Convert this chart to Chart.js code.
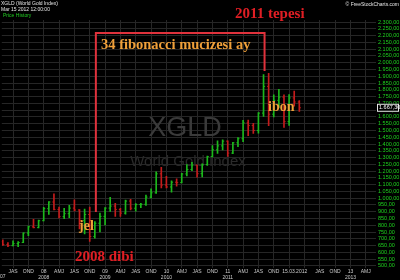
<!DOCTYPE html>
<html>
<head>
<meta charset="utf-8">
<script src="https://cdn.jsdelivr.net/npm/chart.js@4"></script>
<style>
  html, body { margin: 0; padding: 0; background: #000; }
  #wrap { width: 400px; height: 280px; }
</style>
</head>
<body>
<div id="wrap"><canvas id="xgld-chart" width="400" height="280"></canvas></div>
<script>
// XGLD monthly OHLC, May 2007 - Mar 2012
var months = [
  '2007-05', '2007-06', '2007-07', '2007-08', '2007-09', '2007-10', '2007-11', '2007-12',
  '2008-01', '2008-02', '2008-03', '2008-04', '2008-05', '2008-06', '2008-07', '2008-08', '2008-09', '2008-10', '2008-11', '2008-12',
  '2009-01', '2009-02', '2009-03', '2009-04', '2009-05', '2009-06', '2009-07', '2009-08', '2009-09', '2009-10', '2009-11', '2009-12',
  '2010-01', '2010-02', '2010-03', '2010-04', '2010-05', '2010-06', '2010-07', '2010-08', '2010-09', '2010-10', '2010-11', '2010-12',
  '2011-01', '2011-02', '2011-03', '2011-04', '2011-05', '2011-06', '2011-07', '2011-08', '2011-09', '2011-10', '2011-11', '2011-12',
  '2012-01', '2012-02', '2012-03'
];
var opens = [
  679, 659, 650, 665, 673, 743, 789, 783,
  834, 923, 972, 917, 864, 886, 927, 913, 834, 880, 718, 815,
  866, 927, 942, 917, 890, 979, 926, 953, 955, 1008, 1040, 1180,
  1097, 1083, 1118, 1115, 1179, 1212, 1244, 1181, 1248, 1307, 1357, 1386,
  1421, 1333, 1409, 1439, 1556, 1536, 1500, 1628, 1825, 1620, 1722, 1746,
  1565, 1740, 1710
];
var highs = [
  692, 673, 686, 680, 745, 795, 845, 838,
  933, 975, 1033, 934, 925, 947, 988, 916, 919, 935, 827, 890,
  931, 1006, 962, 925, 986, 992, 960, 963, 1024, 1070, 1195, 1227,
  1162, 1128, 1143, 1183, 1249, 1265, 1245, 1254, 1310, 1388, 1424, 1431,
  1424, 1412, 1447, 1575, 1577, 1552, 1632, 1913, 1921, 1763, 1803, 1763,
  1764, 1791, 1720
];
var lows = [
  652, 642, 648, 642, 671, 723, 780, 781,
  832, 880, 913, 855, 849, 857, 906, 774, 736, 681, 705, 752,
  802, 903, 866, 865, 882, 913, 905, 930, 947, 1003, 1035, 1075,
  1075, 1045, 1088, 1112, 1164, 1203, 1155, 1157, 1242, 1305, 1330, 1357,
  1309, 1328, 1381, 1418, 1462, 1478, 1480, 1603, 1535, 1600, 1670, 1523,
  1538, 1680, 1640
];
var closes = [
  659, 650, 665, 673, 743, 789, 783, 834,
  923, 972, 917, 864, 886, 927, 913, 834, 880, 718, 815, 866,
  927, 942, 917, 890, 979, 926, 953, 955, 1008, 1040, 1180, 1097,
  1083, 1118, 1115, 1179, 1212, 1244, 1181, 1248, 1307, 1357, 1386, 1421,
  1333, 1409, 1439, 1556, 1536, 1500, 1628, 1825, 1620, 1722, 1746, 1565,
  1740, 1710, 1667.3
];
var lastPrice = 1667.3;
var yTickValues = [500, 550, 600, 650, 700, 750, 800, 850, 900, 950, 1000, 1050, 1100, 1150, 1200, 1250, 1300,
  1350, 1400, 1450, 1500, 1550, 1600, 1650, 1700, 1750, 1800, 1850, 1900, 1950, 2000, 2050, 2100, 2150, 2200, 2250, 2300];
var quarterNames = { 3: 'AMJ', 6: 'JAS', 9: 'OND' };
// red "34 ay" bracket from the 2008 low to the 2011 top (month index, price)
var fibPath = [
  { x: 22.2, y: 899 }, { x: 22.2, y: 2219 }, { x: 55.2, y: 2219 }, { x: 55.2, y: 1939 }
];

var UP = '#1cb81c';
var DOWN = '#c41c1c';
var GRID = '#262626';
var DATE_TICK = 61.1;

function monthIndex(s) {
  return (Number(s.slice(0, 4)) - 2007) * 12 + Number(s.slice(5, 7)) - 1;
}
function fmtPrice(v) {
  var parts = v.toFixed(2).split('.');
  var ip = parts[0].replace(/\B(?=(\d{3})+(?!\d))/g, '.');
  return ip + ',' + parts[1];
}

var barColors = closes.map(function (c, i) { return c >= opens[i] ? UP : DOWN; });
var xTicks = [];
for (var q = 6; q <= 75; q += 3) xTicks.push(q);
xTicks.push(DATE_TICK);

var textPlugin = {
  id: 'texts',
  beforeDatasetsDraw: function (chart) {
    var c = chart.ctx;
    c.save();
    c.textAlign = 'center';
    c.textBaseline = 'middle';
    c.fillStyle = '#3a3a3a';
    c.font = '27px "Liberation Sans"';
    c.fillText('XGLD', 185, 129);
    c.fillStyle = '#2a2a2a';
    c.font = '15px "Liberation Sans"';
    c.fillText('World Gold Index', 188, 162);
    c.restore();
  },
  afterDraw: function (chart) {
    var c = chart.ctx;
    c.save();
    c.textBaseline = 'middle';
    c.textAlign = 'left';
    // header
    c.font = '5px "Liberation Sans"';
    c.fillStyle = '#e6e6e6';
    c.fillText('XGLD (World Gold Index)', 1, 4);
    c.fillText('Mar 15 2012 12:00:00', 1, 10);
    c.fillStyle = '#22cc22';
    c.fillText('Price History', 3, 16);
    c.textAlign = 'right';
    c.fillStyle = '#e6e6e6';
    c.fillText('\u00a9 FreeStockCharts.com', 399, 5);
    c.textAlign = 'center';
    c.fillStyle = '#cccccc';
    c.fillText('2007', 0, 277);

    // last price box
    var y = chart.scales.y.getPixelForValue(lastPrice);
    c.fillStyle = '#000';
    c.fillRect(377, y - 4, 22, 8);
    c.strokeStyle = '#e6e6e6';
    c.lineWidth = 1;
    c.strokeRect(377.5, y - 3.5, 21, 7);
    c.fillStyle = '#ffffff';
    c.textAlign = 'left';
    c.font = '5.5px "Liberation Sans"';
    c.fillText(fmtPrice(lastPrice), 379, y);

    // annotations
    c.font = 'bold 15px "Liberation Serif"';
    c.fillStyle = '#e01e24';
    c.fillText('2011 tepesi', 235, 14);
    c.fillText('2008 dibi', 75, 257);
    c.fillStyle = '#f0a03a';
    c.font = 'bold 14.5px "Liberation Serif"';
    c.fillText('34 fibonacci mucizesi ay', 101, 45);
    c.font = 'bold 14px "Liberation Serif"';
    c.fillText('jel', 79, 226);
    c.fillText('ibon', 268, 107);
    c.restore();
  }
};

var ctx = document.getElementById('xgld-chart').getContext('2d');
var myChart = new Chart(ctx, {
  type: 'bar',
  data: {
    datasets: [
      {
        type: 'line',
        data: fibPath,
        borderColor: '#e0323c',
        borderWidth: 2,
        pointRadius: 0,
        fill: false,
        order: 0
      },
      {
        type: 'bar',
        data: months.map(function (m, i) { return { x: monthIndex(m), y: [lows[i], highs[i]] }; }),
        backgroundColor: barColors,
        borderWidth: 0,
        barThickness: 1,
        grouped: false,
        order: 3
      },
      {
        type: 'scatter',
        data: months.map(function (m, i) { return { x: monthIndex(m) - 0.15, y: opens[i] }; }),
        pointStyle: 'line',
        pointRadius: 0.8,
        pointHoverRadius: 0.8,
        borderWidth: 1,
        borderColor: barColors,
        order: 2
      },
      {
        type: 'scatter',
        data: months.map(function (m, i) { return { x: monthIndex(m) + 0.15, y: closes[i] }; }),
        pointStyle: 'line',
        pointRadius: 0.8,
        pointHoverRadius: 0.8,
        borderWidth: 1,
        borderColor: barColors,
        order: 2
      }
    ]
  },
  options: {
    responsive: false,
    animation: false,
    layout: { padding: { top: 20, left: 0, right: 0, bottom: 0 } },
    plugins: {
      legend: { display: false },
      tooltip: { enabled: false }
    },
    scales: {
      x: {
        type: 'linear',
        min: 3.8,
        max: 77,
        offset: false,
        border: { display: false },
        grid: {
          offset: false,
          color: function (c) { return c.tick && c.tick.value === DATE_TICK ? 'rgba(0,0,0,0)' : GRID; },
          drawTicks: false
        },
        afterBuildTicks: function (s) { s.ticks = xTicks.map(function (v) { return { value: v }; }); },
        afterFit: function (s) { s.height = 12; s.paddingLeft = 0; s.paddingRight = 0; },
        ticks: {
          autoSkip: false,
          maxRotation: 0,
          padding: 1,
          color: '#cccccc',
          font: { size: 5, family: 'Liberation Sans', lineHeight: 1.1 },
          callback: function (v) {
            if (v === DATE_TICK) return '15.03.2012';
            if (v === 60 || v === 63) return '';
            var mo = v % 12;
            var yr = 2007 + Math.floor(v / 12);
            if (mo === 0) return [String(yr).slice(2), String(yr)];
            return [quarterNames[mo], ''];
          }
        }
      },
      y: {
        position: 'right',
        min: 485,
        max: 2315,
        border: { display: false },
        grid: { color: GRID, drawTicks: false },
        afterBuildTicks: function (s) { s.ticks = yTickValues.map(function (v) { return { value: v }; }); },
        afterFit: function (s) { s.width = 24; },
        ticks: {
          autoSkip: false,
          padding: 2,
          color: '#1ed41e',
          font: { size: 5.5, family: 'Liberation Sans' },
          callback: function (v) { return fmtPrice(v); }
        }
      }
    }
  },
  plugins: [textPlugin]
});
</script>
</body>
</html>
